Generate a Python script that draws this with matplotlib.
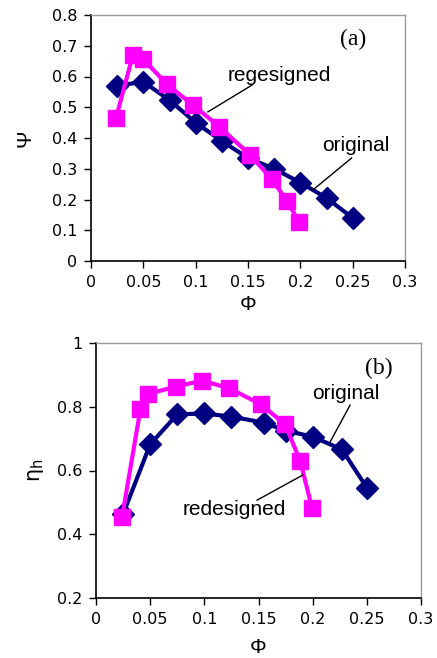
import matplotlib
matplotlib.use("Agg")
import matplotlib.pyplot as plt

# ---- data (a) ----
phi_orig_a = [0.025, 0.05, 0.075, 0.10, 0.125, 0.15, 0.175, 0.20, 0.225, 0.25]
psi_orig_a = [0.570, 0.583, 0.523, 0.450, 0.390, 0.335, 0.300, 0.255, 0.205, 0.140]
phi_red_a = [0.024, 0.040, 0.050, 0.0725, 0.0975, 0.1225, 0.152, 0.1725, 0.1875, 0.1985]
psi_red_a = [0.466, 0.670, 0.656, 0.575, 0.507, 0.437, 0.345, 0.267, 0.195, 0.128]

# ---- data (b) ----
phi_orig_b = [0.025, 0.050, 0.075, 0.10, 0.125, 0.155, 0.175, 0.20, 0.227, 0.25]
eta_orig_b = [0.463, 0.682, 0.776, 0.779, 0.769, 0.750, 0.725, 0.706, 0.666, 0.546]
phi_red_b = [0.024, 0.041, 0.048, 0.0735, 0.098, 0.123, 0.152, 0.1745, 0.1885, 0.1995]
eta_red_b = [0.453, 0.792, 0.840, 0.863, 0.882, 0.858, 0.808, 0.745, 0.630, 0.481]

xticks = [0, 0.05, 0.1, 0.15, 0.2, 0.25, 0.3]
xticklabels = ["0", "0.05", "0.1", "0.15", "0.2", "0.25", "0.3"]
yticks_a = [0, 0.1, 0.2, 0.3, 0.4, 0.5, 0.6, 0.7, 0.8]
yticklabels_a = ["0", "0.1", "0.2", "0.3", "0.4", "0.5", "0.6", "0.7", "0.8"]
yticks_b = [0.2, 0.4, 0.6, 0.8, 1.0]
yticklabels_b = ["0.2", "0.4", "0.6", "0.8", "1"]

NAVY = "#000080"
MAG = "#FF00FF"
W, H = 437, 658

fig = plt.figure(figsize=(W / 100, H / 100), dpi=100)
fig.patch.set_facecolor("white")

def make_ax(l, r, t, b):
    return fig.add_axes([l / W, (H - b) / H, (r - l) / W, (b - t) / H])

tickfont = dict(family="DejaVu Sans", size=11.5)
annfont = dict(family="Liberation Sans", size=15)

def style(ax, yt, ytl, ylim):
    ax.set_xlim(0, 0.3)
    ax.set_ylim(*ylim)
    ax.set_xticks(xticks)
    ax.set_xticklabels(xticklabels, **tickfont)
    ax.set_yticks(yt)
    ax.set_yticklabels(ytl, **tickfont)
    ax.tick_params(direction="out", length=5, width=1, color="black", pad=5)
    for s in ["left", "bottom"]:
        ax.spines[s].set_color("black")
        ax.spines[s].set_linewidth(1.2)
    for s in ["top", "right"]:
        ax.spines[s].set_color("#999999")
        ax.spines[s].set_linewidth(1.0)

# ---------- (a) ----------
ax1 = make_ax(91, 405, 15, 261)
style(ax1, yticks_a, yticklabels_a, (0, 0.8))
ax1.plot(phi_orig_a, psi_orig_a, color=NAVY, lw=3, marker="D", ms=11,
         mfc=NAVY, mec=NAVY, zorder=3)
ax1.plot(phi_red_a, psi_red_a, color=MAG, lw=3, marker="s", ms=11,
         mfc=MAG, mec=MAG, zorder=4)
ax1.text(0.1796, 0.602, "regesigned", ha="center", va="center", **annfont)
ax1.plot([0.1538, 0.1117], [0.572, 0.485], color="black", lw=1, zorder=5)
ax1.text(0.253, 0.374, "original", ha="center", va="center", **annfont)
ax1.plot([0.249, 0.212], [0.335, 0.231], color="black", lw=1, zorder=5)
ax1.text(0.250, 0.719, "(a)", ha="center", va="center",
         family="Liberation Serif", size=17)
ax1.set_xlabel("Φ", family="Liberation Sans", size=15, labelpad=4)
ax1.set_ylabel("Ψ", family="Liberation Sans", size=15, labelpad=12)

# ---------- (b) ----------
ax2 = make_ax(96, 421, 343, 598)
style(ax2, yticks_b, yticklabels_b, (0.2, 1.0))
ax2.plot(phi_orig_b, eta_orig_b, color=NAVY, lw=3, marker="D", ms=11,
         mfc=NAVY, mec=NAVY, zorder=3)
ax2.plot(phi_red_b, eta_red_b, color=MAG, lw=3, marker="s", ms=11,
         mfc=MAG, mec=MAG, zorder=4)
ax2.text(0.261, 0.9216, "(b)", ha="center", va="center",
         family="Liberation Serif", size=17)
ax2.text(0.231, 0.843, "original", ha="center", va="center", **annfont)
ax2.plot([0.2345, 0.216], [0.805, 0.689], color="black", lw=1, zorder=5)
ax2.text(0.128, 0.479, "redesigned", ha="center", va="center", **annfont)
ax2.plot([0.1487, 0.191], [0.507, 0.586], color="black", lw=1, zorder=5)
ax2.set_xlabel("Φ", family="Liberation Sans", size=15, labelpad=8)
ax2.set_ylabel(r"$\mathregular{\eta_h}$", size=15, labelpad=8)

fig.savefig("out.png", dpi=100, facecolor="white")
